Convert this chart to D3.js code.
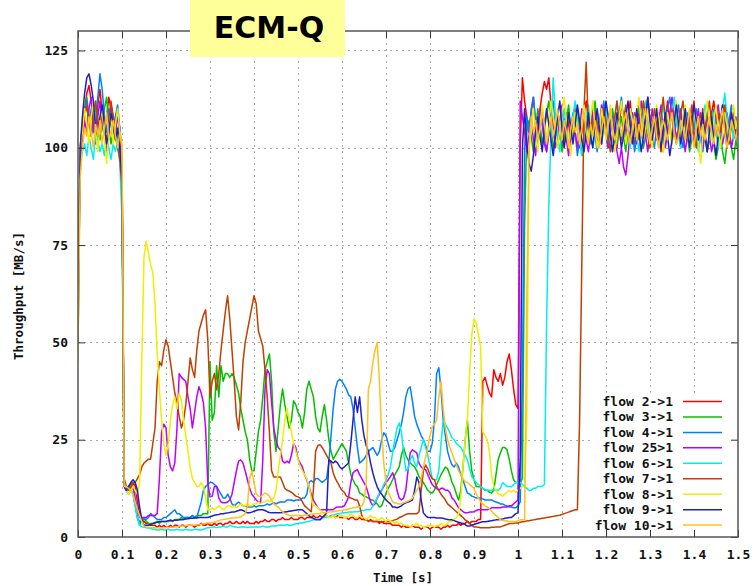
<!DOCTYPE html>
<html><head><meta charset="utf-8">
<script src="https://cdn.jsdelivr.net/npm/d3@7"></script>
<style>body{margin:0;background:#fff}svg{display:block}</style>
</head><body>
<svg id="chart" width="755" height="586"></svg>
<script>
// sample spacing of every series (seconds)
const STEP = 0.005;
const chartTitle = "ECM-Q";
const xTicks = [0,0.1,0.2,0.3,0.4,0.5,0.6,0.7,0.8,0.9,1,1.1,1.2,1.3,1.4,1.5];
const xTickLabels = ["0","0.1","0.2","0.3","0.4","0.5","0.6","0.7","0.8","0.9","1","1.1","1.2","1.3","1.4","1.5"];
const yTicks = [0,25,50,75,100,125];
const seriesNames = ["flow 2->1","flow 3->1","flow 4->1","flow 25>1","flow 6->1","flow 7->1","flow 8->1","flow 9->1","flow 10->1"];
const seriesColors = ["#ff0000","#00c000","#0080ff","#c000ff","#00eeee","#c04000","#eeee00","#2020c0","#ffc020"];

const flow2 = [60,100,106,110,114,116,112,108,104,111,115,109,105,108,113,110,106,104,109,105,98,
14,12,13,12,14,13,9,6,4.5,4,3.5,3.5,3,3,3,2.5,3,2.5,3,2.5,
2.5,3,2.5,3,3,2.5,3,3,2.5,3,3,3,2.5,3,3,3.5,3,3,3.5,3,
3,3.5,3,3.5,3.5,3,3.5,3.5,4,3.5,3.5,4,3.5,3.5,4,3.5,4,3.5,3.5,3.5,
4,3.5,4,4,4.5,4,4,4.5,4.5,4,4.5,4.5,5,4.5,4.5,4.5,5,4.5,4.5,4.5,
5,5,4.5,5,5,5,5.5,5,5,5.5,5,5.5,5.5,5,5.5,5.5,5,5.5,5,5,
5,5,4.5,5,5,4.5,4.5,5,4.5,4.5,4.5,4,4.5,4,4,4,3.5,4,3.5,3.5,
3.5,3.5,3,3,3,3,2.5,3,2.5,2.5,2.5,3,2.5,2.5,2.5,2,2.5,2.5,2.5,2,
2.5,2.5,2.5,2.5,2,2.5,2.5,3,2.5,3,3,3,3.5,3,3.5,3.5,4,3.5,4,4,
4,4.5,4.5,40,41,39,37,36,43,41,40,42,39,41,45,47,43,38,34,33,
100,118,
112,108,104,109,113,106,103,110,114,117,115,118,111,106,104,108,103,100,105,109,
106,102,108,111,105,100,104,109,112,107,103,106,110,104,101,107,111,106,102,105,
109,104,100,106,111,108,103,107,112,105,101,104,109,106,102,108,113,107,103,106,
110,105,99,104,108,112,106,102,107,111,104,100,105,110,107,103,108,112,105,101,
106,110,104,99,103,109,112,107,102,105,111,106,100,104,109,106,103,107];

const flow3 = [65,98,104,109,113,108,103,106,111,107,102,105,110,113,106,101,104,108,103,99,94,
14,13,12,14,13,9,5,3,4.5,5,4,3.5,3.5,3.5,3.5,4,3.5,4,4,4,
4,4.5,4,4.5,4.5,4.5,5,4.5,5,5,5,5.5,5,5.5,5.5,5.5,6,6,6,45,
30,32,44,36,44,40,42,42,41,42,41,39,37,33,30,27,25,20,17,17,
22,27,30,36,43,45,47,40,27,22,28,34,38,34,31,28,30,35,34,32,
31,28,32,38,40,38,36,31,28,27,31,34,30,25,22,20,21,22,23,24,
23,22,19,16,14.7,13.5,12.9,11.3,11,10.5,10.3,10,9.5,9.5,9,8.5,7.7,8,9.5,11.3,
12.5,13.5,14.7,16,17,18,21,23,21,19.8,19,18.5,18,17,15.5,14.7,14,13,12,11.5,
11.3,12,13.5,14.7,16,17,18,17.5,16,14,12.9,11,9.5,12,18,25,30,22,17,14.7,
13,12.9,13,12.5,12,12,11.5,11.3,12,16,20,21.6,23,23,22.4,20,17,14.7,14,14,
14,15,80,104,
107,103,99,105,110,106,101,104,109,112,105,100,103,108,104,99,102,107,111,105,
102,106,110,104,98,103,108,105,101,107,112,106,102,105,109,103,100,106,110,104,
101,105,108,103,99,104,109,106,102,107,111,105,100,103,108,104,101,106,110,107,
103,99,104,108,105,101,106,110,104,100,105,109,103,99,102,107,104,100,105,108,
103,99,102,106,101,97,100,104,99,96,101,105,100,97,102,99];

const flow4 = [55,97,103,108,112,106,110,104,107,113,119,115,108,104,110,106,102,108,111,105,96,
13,12,13,12,11,8,5,4,4,4.5,4.5,5,6,5.5,5,4.5,4.5,4.5,5,5,
5.5,6,6.5,7,6,6,5.5,5,5,5,5,5.5,5,5,7,9,12,13,13.5,14,
14,13.5,13,12,11,10,10,11,10,8.5,8,8.5,9,8.5,8,8,7.7,7.7,7.7,8,
7.7,8,8,8,8.2,8.5,8.2,8.5,8.8,8.5,8.8,9,9,9,9.5,9.5,9.5,9.2,9.5,9.5,
9.5,10,10,11,14,14.5,14,15,15,14.5,14,14.5,15,19,26,33,38,40,40.5,40,
39,38,36.5,36,33,28,23,19,19.5,20,21,22,22.5,23,22,21,22,25,26.8,26,
24,22,22,23,25,26.8,29,32,36,38,38.6,35,31,29,27.5,26,25,23.5,22,22,
24,30,42,43.5,38,30,26,22,20,18.5,18,19,18,16,14.7,12.9,11.3,11,10.5,10.3,
10,10,10,9.8,9.5,9.5,9.5,9.5,9.2,9,8.8,8.5,8.5,8.2,8,7.7,7.7,7.5,7.5,8,
9,40,100,
108,104,110,113,107,102,105,109,103,99,104,108,112,106,101,105,110,107,103,100,
105,109,104,98,102,107,111,105,101,106,110,103,99,104,108,112,106,102,107,104,
100,105,109,113,107,102,106,110,104,99,103,108,105,101,106,111,107,103,100,105,
109,104,101,106,110,113,108,103,107,111,105,100,104,109,106,102,105,110,107,103,
99,104,108,103,106,110,105,101,104,109,106,102,107,111,105,102,106];

const flow25 = [68,95,102,107,104,110,113,106,101,108,112,107,103,99,106,111,108,104,109,102,97,
13,12,11,12,13,10,7,5,5,5,5,5.5,5.5,5.5,5.5,6,15,27,29,28,
21,18,17,19,28,42,41,40.5,40,36,33,28,32,36,38.6,37,34.5,28,14,10.3,
10.5,13,13,10,9,8.8,8.8,9,9.5,11,14,17,19.5,19.8,19,17,14.7,12.5,11,10.3,
9.5,9,8.8,20,38,43,42,34.5,28,25,23,22.4,19.5,19,19.5,19,21,24,23,20,
19,18,16,14.7,13,11,9.5,8.5,7.5,7,7,7,7,7,7,7,7.5,7.7,7.7,7.7,
8,9,10.3,14,16.5,17,17.3,16,15,14,12.9,11,9,8,8.5,10,11,12,13,14,
14.7,15.5,16.5,15,12,10,9.5,10,12,17,21.6,22.4,22,21.6,19,18,17.5,17.3,16,14.7,
13.5,12.9,12.5,12,12.5,12.5,12,12,11.5,10,9.5,8.5,7.5,7,6.5,6.2,6.2,6.4,6.4,6.5,
6.8,7,7,7,7,7,7.2,7.5,7.5,7.5,7.5,7.5,7.7,7.7,7.7,8,8,8.5,9,9.5,
112,108,
104,99,103,108,102,98,105,110,106,101,99,104,109,105,100,103,107,111,106,102,
98,103,108,104,100,105,110,107,102,99,104,109,105,101,106,111,107,103,100,104,
108,104,99,96,100,95,93,98,104,109,105,101,106,112,108,103,99,104,110,106,
102,107,111,105,100,104,109,113,107,102,106,110,104,99,103,108,105,101,106,110,
104,100,105,109,103,99,102,107,111,106,101,104,109,105,100,103,108,104];

const flow6 = [72,96,99,101,98,103,100,97,104,102,99,101,98,103,100,97,101,99,102,96,82,
14,12,11,12,11,8,5,3,2.6,2.5,2.4,2.3,2.2,2,2,1.8,1.8,2,1.8,1.8,
2,1.8,1.8,1.8,2,1.8,1.8,1.8,2,1.8,1.8,1.8,2,2,1.8,1.8,2,2.2,2.4,2.4,
2.6,2.6,2.4,2.6,2.6,2.8,2.6,2.6,3,2.8,2.6,2.6,2.4,2.6,2.6,2.6,2.4,2.6,2.6,2.6,
2.6,2.6,2.6,2.8,2.6,2.6,2.6,2.8,2.8,2.8,3,3,3,3,3.2,3,3,3.2,3.4,3.4,
3.6,3.6,3.8,4,4,4.2,4.4,4.4,4.6,4.6,4.8,5,5,5.2,5.4,5.6,5.8,6,6,6.2,
6.2,6.2,6.4,6.4,6.4,6.5,6.5,6.6,6.8,6.8,7,7,7,8,9,10,11.3,12,13.5,14.7,
16,18,21.6,25,28,29.3,27,21.6,17,17.5,19.8,21,19,18,21,23,25,23,21,18,
15,14.7,14.7,17,24,30,29,28,26.8,25.5,25,24,23.5,23,22,21,19.8,17.5,15.5,14.7,
14,13.5,12.9,12.5,12.2,12,12,12,12.2,12,12,12.5,14,13.5,13,13,12.9,13.5,14,14,
14,13.5,13,12.5,12,12,12.5,12.5,13,13,13,13.5,55,85,104,118,108,
103,99,105,110,106,101,104,108,112,107,102,98,103,107,111,105,100,104,109,106,
101,105,110,104,99,103,108,112,106,102,107,110,104,100,105,109,103,99,104,108,
112,106,101,105,109,104,100,106,111,107,102,105,109,113,107,103,100,104,108,105,
101,106,110,104,99,103,107,111,106,102,105,109,104,100,105,110,114,108,103,106,102,107,104];

const flow7 = [60,98,104,108,111,106,103,109,112,107,104,110,106,101,107,112,108,103,100,97,90,
15,13,12,13,14,14,15,16,18,19,19.5,20,20,24,28,40,45,44,48,50.7,
49,45,41,37,34.5,31,28,30,34,40,46,43,41,48,53,55,57,58.4,50.7,36,
40,42,37.8,42,48,53,58,62,56,48,40,31,27.5,35,45,50,53,56,59,62,
60,53,51,49,43,36,27,17,15.4,15.4,15.4,15.4,14,12.5,12,11.8,11.5,11,10.5,10.3,
10,9,8,7.5,7,6.5,12,22,23.5,23.7,23,22,21,20,19,16.5,15,14,12.9,12,
11.5,10.5,10.3,10,9.8,9.5,9.5,8,5.5,4.5,4.4,4.2,4.2,4,4,4,4,3.8,4,4,
4,4,4.2,4.4,4.6,5,5.2,5.5,5.8,6,6,6,6,6,6.5,12,17,18.5,17.5,16,
15,14.7,13,12,11,10.3,9.5,8.5,8,7.5,7,6.5,6,5.5,5,4.4,4,3.5,3,2.6,
2.6,2.5,2.4,2.4,2.4,2.4,2.4,2.5,2.5,2.6,2.6,2.6,2.8,3,3.2,3.4,3.5,3.5,3.6,3.6,
3.8,3.9,4,4.1,4.2,4.3,4.4,4.5,4.6,4.7,4.8,4.9,5,5.1,5.2,5.3,5.4,5.5,5.6,5.8,6,6.2,6.4,6.6,6.8,7,7,
30,70,110,122,105,
108,104,109,106,101,105,110,107,103,99,104,108,112,106,102,107,111,105,101,104,
109,106,102,107,112,108,103,100,105,110,106,102,108,113,107,103,106,110,104,101,
105,109,112,106,102,107,111,104,100,105,109,106,103,108,112,106,102,105,109,104,
107,111,105,101,106,110,104,108];

const flow8 = [45,100,104,110,106,101,108,112,104,99,107,110,103,96,105,109,101,106,110,104,100,
14,12,11,12,13,12,11,14,45,72,76,73,70,68,60,47,38,30,24,21,
24,30,34,36,33,37,35,30,26,22,18,15,14,13,13,14,13,10,7,7,
7.5,7,7.5,8,7.5,7,7.5,8,8,7.5,8,7.5,8,8.5,8,8,8.5,8,8,8.5,
8.5,9,8.5,9,9,9.5,9,9.5,10,12,17,21,25,30,33,30,27,24,22,20,
18,17,16,15,13,10,8,8,7.5,7,6.5,6,5.5,5,5,5.5,5,5,5.5,5.5,
5,5,5.5,6,5.5,5,5,5.5,5,5,4.5,5,5.5,5,5,4.5,4.5,5,4.5,4,
4.5,4,4,3.5,4,3.5,3.5,3,3,3,2.5,3,3,3.5,3,3,2.5,2.5,3,3,
3,2.5,3,3,3.5,3,3,3.5,4,4,4.5,5,6,10,18,25,30,42,52,56,
55,52,49,27,26,25,22,16,13,12,11,11,10.5,11,11.5,12,11.5,12,11.5,12,
12.5,13,13,30,98,
106,110,103,99,105,111,107,102,106,112,108,104,100,105,109,113,107,103,98,104,
109,105,101,107,111,106,102,108,112,105,100,104,110,106,102,107,111,104,99,103,
108,112,106,101,105,110,107,103,109,113,106,102,105,110,104,100,106,111,108,103,
99,104,109,105,101,107,112,106,102,108,111,104,100,105,110,106,101,96,103,108,
112,106,102,107,111,105,100,104,109,106,102,107,111,105,108];

const flow9 = [50,100,108,114,118,119,116,112,105,103,108,111,106,101,104,109,106,102,105,100,92,
13,12,13,14,14.7,14,12,7.7,4.4,3,3,3,3.2,3.5,3.7,3.8,4,4,4,4,
4.2,4.2,4.2,4.3,4.3,4.4,4.4,4.5,4.6,4.7,4.8,4.8,4.9,4.9,5,5,5,5,5,5.2,
5.4,5.6,5.7,5.8,6,6,6.1,6.2,6.3,6.4,6.4,6.6,6.8,7,6.8,6.5,6.2,6.2,6.4,6.6,
6.8,7,7,7,6.8,6.5,6.3,6.2,6.2,6.2,6.2,6.2,6.3,6.4,6.5,6.6,6.7,6.8,6.9,7,
7,7,6.5,6,5.5,5,4.8,4.5,4.4,4.4,5,5.5,6.2,19.8,19.5,19,19.5,19,18,17.5,
18,18.5,19,24,30,36,32,36,30,26,23.5,22,19,16.5,14.5,12.9,11.8,11,10.2,9.5,
9,8.5,7.7,7.7,7.5,7.7,8,8.5,8.8,9,9.2,9.5,12,15.4,14,9.5,6.2,5.5,5,5,
5,5,4.9,4.9,4.9,4.8,4.6,4.5,4.4,4.4,4.2,4,3.8,3.6,3.4,3.2,2.8,2.8,3,3.2,
3.4,3.6,3.8,3.9,3.9,4,4.1,4.2,4.3,4.4,4.4,4.5,4.6,4.8,4.9,5,5,5.5,6,6.2,
20,100,110,
101,96,94,98,104,108,103,99,105,110,106,102,98,103,108,112,105,100,104,109,
105,101,106,111,107,102,99,104,109,103,100,106,110,105,101,107,112,108,103,99,
104,109,105,100,103,108,112,106,101,105,110,104,99,103,108,113,107,102,106,110,
104,100,105,109,103,98,102,107,111,106,101,105,110,104,100,106,111,107,102,105,
109,103,99,104,108,102,98,103,107,111,105,100,104,109,106,102,105];

const flow10 = [48,92,100,105,103,108,104,100,106,103,107,101,105,109,102,104,107,103,100,104,101,
13,12.9,12.5,12,11,9,7,5.5,4,2.8,2.6,2.5,2.4,2.4,2.4,2.3,2.3,2.3,2.3,2.4,
2.4,2.5,2.5,2.6,2.6,2.7,2.8,2.8,2.9,3,3,3,3,3.1,3.2,3.3,3.4,3.5,3.6,3.6,
3.7,3.8,4,4.2,4.4,4.5,4.6,4.7,4.8,4.9,4.9,5,5,5.2,5.5,6,8,15,17,14,
11,10.5,10.3,10.8,11.3,11,10.5,9.5,8.5,8,7.7,7,6.5,6,5.8,5.6,5.5,5.5,5.5,5.5,
5.5,5.5,5.6,5.7,5.8,5.8,5.9,6,6,6.1,6.2,6.2,6.3,6.4,6.4,6.5,6.6,6.7,6.8,6.8,
7,7,7.2,7.3,7.5,7.6,7.7,7.8,8,9,14,38,40,44.8,48,50,40,27,19,14,
11.5,10.3,9,8.8,8.6,8.5,8.5,8.8,9,9.2,9.5,10,11,12,12.9,15,18,20.5,23,26,
28.3,29,30,36,40,33,28,25,23,21.6,20,18.5,17,16,15,14.2,14,13.5,13,12.5,
11,10,9,8.5,8,7.7,7.2,6.6,6,5.5,5,4.4,4.3,4.2,4.1,4,4,4,4,4.2,
4.4,4.4,4.5,60,100,108,
104,107,102,105,109,106,101,104,108,103,106,110,105,102,107,104,100,105,108,104,
106,102,105,109,104,101,106,103,107,104,100,105,108,103,106,110,105,102,104,107,
103,106,109,104,101,105,108,102,106,103,107,110,104,101,105,108,103,100,104,107,
105,102,106,109,104,101,103,107,105,102,106,110,104,100,105,108,103,106,102,105,
108,104,101,106,103,107,110,104,100,103,107,105,102,106];

const seriesValues = [flow2, flow3, flow4, flow25, flow6, flow7, flow8, flow9, flow10];

const svg = d3.select("#chart");
const x = d3.scaleLinear().domain([0, 1.5]).range([78, 738]);
const y = d3.scaleLinear().domain([0, 130]).range([537, 31]);
const FONT = "'DejaVu Sans Mono', 'Liberation Mono', monospace";

// grid
const grid = svg.append("g").attr("stroke", "#a8a8a8").attr("stroke-width", 1).attr("stroke-dasharray", "2,4");
grid.selectAll("line.v").data(xTicks.filter(t => t > 0 && t < 1.5)).join("line")
  .attr("x1", d => Math.round(x(d)) + 0.5).attr("x2", d => Math.round(x(d)) + 0.5)
  .attr("y1", y(0)).attr("y2", y(130));
grid.selectAll("line.h").data(yTicks.filter(t => t > 0)).join("line")
  .attr("y1", d => Math.round(y(d)) + 0.5).attr("y2", d => Math.round(y(d)) + 0.5)
  .attr("x1", x(0)).attr("x2", x(1.5));

// key background (hides grid)
const keyX = 593, keyY = 393;
svg.append("rect").attr("x", keyX).attr("y", keyY)
  .attr("width", x(1.5) - keyX).attr("height", y(0) - keyY).attr("fill", "#fff");

// data
svg.append("clipPath").attr("id", "plotclip").append("rect")
  .attr("x", x(0)).attr("y", y(130)).attr("width", x(1.5) - x(0)).attr("height", y(0) - y(130));
const line = d3.line().x((d, i) => x(i * STEP)).y(d => y(d));
svg.append("g").attr("clip-path", "url(#plotclip)")
  .selectAll("path").data(seriesValues).join("path")
  .attr("d", d => line(d))
  .attr("fill", "none")
  .attr("stroke", (d, i) => seriesColors[i])
  .attr("stroke-width", 1.5)
  .attr("stroke-linejoin", "round");

// axes
function styleAxis(g) {
  g.select(".domain").remove();
  g.selectAll(".tick line").attr("stroke", "#333").attr("stroke-width", 1);
  g.selectAll(".tick text").attr("font-family", FONT).attr("font-weight", "bold")
    .attr("font-size", 13).attr("fill", "#111");
}
svg.append("g").attr("transform", `translate(0,${y(0)})`)
  .call(d3.axisBottom(x).tickValues(xTicks).tickFormat((d, i) => xTickLabels[i]).tickSize(-7).tickPadding(13))
  .call(styleAxis);
svg.append("g").attr("transform", `translate(0,${y(130)})`)
  .call(d3.axisTop(x).tickValues(xTicks).tickFormat("").tickSize(-7))
  .call(styleAxis);
svg.append("g").attr("transform", `translate(${x(0)},0)`)
  .call(d3.axisLeft(y).tickValues(yTicks).tickFormat(d3.format("d")).tickSize(-7).tickPadding(10))
  .call(styleAxis);
svg.append("g").attr("transform", `translate(${x(1.5)},0)`)
  .call(d3.axisRight(y).tickValues(yTicks).tickFormat("").tickSize(-7))
  .call(styleAxis);

// frame
svg.append("rect").attr("x", x(0)).attr("y", y(130))
  .attr("width", x(1.5) - x(0)).attr("height", y(0) - y(130))
  .attr("fill", "none").attr("stroke", "#555").attr("stroke-width", 1.5);

// axis titles
svg.append("text").attr("x", 403).attr("y", 582).attr("text-anchor", "middle")
  .attr("font-family", FONT).attr("font-weight", "bold").attr("font-size", 12.5).attr("fill", "#111")
  .text("Time [s]");
svg.append("text").attr("transform", "translate(23,296) rotate(-90)").attr("text-anchor", "middle")
  .attr("font-family", FONT).attr("font-weight", "bold").attr("font-size", 12.5).attr("fill", "#111")
  .text("Throughput [MB/s]");

// legend
const legend = svg.append("g");
seriesNames.forEach((name, i) => {
  const ly = 401.5 + i * 15.45;
  legend.append("text").attr("x", 673).attr("y", ly + 4.5).attr("text-anchor", "end")
    .attr("font-family", FONT).attr("font-weight", "bold").attr("font-size", 13).attr("fill", "#111")
    .text(name);
  legend.append("line").attr("x1", 683).attr("x2", 722).attr("y1", ly).attr("y2", ly)
    .attr("stroke", seriesColors[i]).attr("stroke-width", 1.5);
});

// title box
svg.append("rect").attr("x", 190).attr("y", 0).attr("width", 155).attr("height", 57).attr("fill", "#ffff99");
svg.append("text").attr("x", 269).attr("y", 38).attr("text-anchor", "middle")
  .attr("font-family", "'DejaVu Sans', 'Noto Sans', sans-serif").attr("font-weight", "bold")
  .attr("font-size", 30).attr("fill", "#000").text(chartTitle);
</script>
</body></html>
